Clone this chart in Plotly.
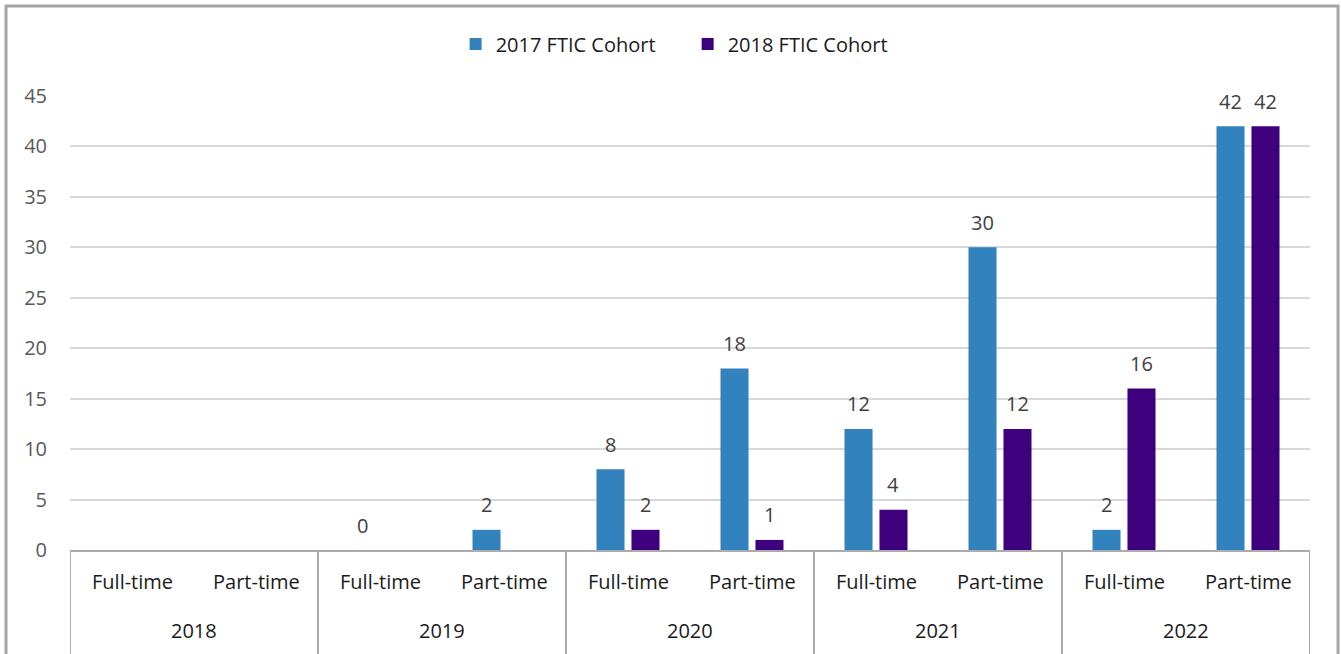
import plotly.graph_objects as go

years = ["2018", "2018", "2019", "2019", "2020", "2020", "2021", "2021", "2022", "2022"]
status = ["Full-time", "Part-time"] * 5
cohort_2017 = [None, None, 0, 2, 8, 18, 12, 30, 2, 42]
cohort_2018 = [None, None, None, None, 2, 1, 4, 12, 16, 42]
series_names = ["2017 FTIC Cohort", "2018 FTIC Cohort"]
colors = ["#3182BD", "#3F007D"]
y_ticks = list(range(0, 50, 5))

FONT = "'Open Sans', Lato, sans-serif"
FS = 20
GRAY = "#ababab"

xpos = list(range(len(status)))
bar_w = 0.226          # bar width in category units
half_step = 0.141      # distance of each bar centre from the category centre
centres = [-half_step, half_step]

fig = go.Figure()
annotations = []
for name, vals, col, c in zip(series_names, [cohort_2017, cohort_2018], colors, centres):
    fig.add_trace(go.Bar(
        x=xpos, y=vals, name=name, width=bar_w, offset=c - bar_w / 2,
        marker=dict(color=col, line=dict(width=0)),
    ))
    for xi, v in zip(xpos, vals):
        if v is None:
            continue
        annotations.append(dict(x=xi + c, y=v, xref="x", yref="y", text=str(v), showarrow=False,
                                yanchor="middle", yshift=25,
                                font=dict(family=FONT, size=FS, color="#404040")))

# category labels (inner row) and year labels (outer row)
for xi, s in zip(xpos, status):
    annotations.append(dict(x=xi, y=0, xref="x", yref="paper", text=s, showarrow=False,
                            yanchor="middle", yshift=-31,
                            font=dict(family=FONT, size=FS, color="#1a1a1a")))
unique_years = list(dict.fromkeys(years))
shapes = []
for yr in unique_years:
    idx = [i for i, y in enumerate(years) if y == yr]
    annotations.append(dict(x=sum(idx) / len(idx), y=0, xref="x", yref="paper", text=yr, showarrow=False,
                            yanchor="middle", yshift=-80,
                            font=dict(family=FONT, size=FS, color="#1a1a1a")))
    for edge in (min(idx) - 0.5, max(idx) + 0.5):
        shapes.append(dict(type="line", xref="x", yref="paper", x0=edge, x1=edge, y0=0, y1=-0.3,
                           line=dict(color=GRAY, width=2)))

# outer chart border
shapes.append(dict(type="rect", xref="paper", yref="paper", x0=-0.0516, x1=1.0226, y0=-0.4, y1=1.198,
                   line=dict(color="#a6a6a6", width=3), fillcolor="rgba(0,0,0,0)", layer="below"))

fig.update_layout(
    width=1341, height=654,
    margin=dict(l=70, r=31, t=96, b=104),
    paper_bgcolor="white", plot_bgcolor="white",
    barmode="overlay",
    font=dict(family=FONT, size=FS, color="#262626"),
    legend=dict(orientation="h", x=0.311, xanchor="left", y=1.1145, yanchor="middle",
                font=dict(family=FONT, size=FS, color="#1a1a1a"), itemwidth=30,
                entrywidth=187, entrywidthmode="pixels",
                traceorder="normal"),
    showlegend=True,
    annotations=annotations,
    shapes=shapes,
)
fig.update_yaxes(range=[0, 45], tickvals=y_ticks, showgrid=True, gridcolor="#d9d9d9", gridwidth=2,
                 zeroline=False, showline=False, ticks="", ticklabelstandoff=22,
                 tickfont=dict(family=FONT, size=FS, color="#595959"))
fig.update_xaxes(range=[-0.5, len(status) - 0.5], showline=True, linecolor=GRAY, linewidth=2,
                 showgrid=False, zeroline=False, showticklabels=False, ticks="")

fig.write_html("out.html", config={"displayModeBar": False},
               post_script="document.body.style.margin='0';document.body.style.overflow='hidden';")
